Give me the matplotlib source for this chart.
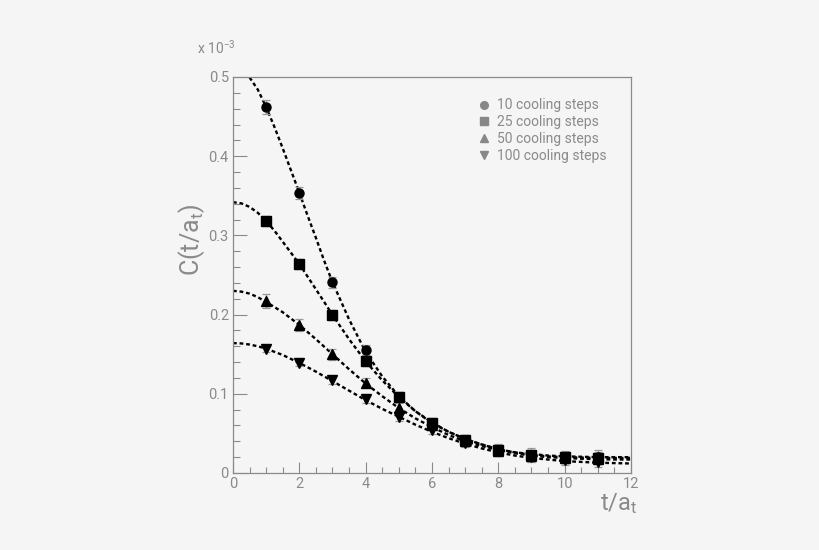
import matplotlib
matplotlib.use("Agg")
import matplotlib.pyplot as plt

# data, in units of 1e-3
t_pts = [1, 2, 3, 4, 5, 6, 7, 8, 9, 10, 11]

c10  = [0.462, 0.3535, 0.241, 0.155, 0.096, 0.063, 0.042, 0.029, 0.023, 0.020, 0.020]
c25  = [0.318, 0.264, 0.1995, 0.141, 0.096, 0.063, 0.042, 0.029, 0.023, 0.020, 0.019]
c50  = [0.217, 0.187, 0.150, 0.114, 0.082, 0.060, 0.040, 0.028, 0.021, 0.019, 0.018]
c100 = [0.157, 0.139, 0.117, 0.093, 0.071, 0.054, 0.038, 0.028, 0.020, 0.016, 0.014]

e10  = [0.009, 0.008, 0.007, 0.006, 0.006, 0.006, 0.006, 0.007, 0.008, 0.008, 0.009]
e25  = [0.006, 0.006, 0.006, 0.006, 0.006, 0.006, 0.006, 0.006, 0.006, 0.007, 0.007]
e50  = [0.009, 0.008, 0.007, 0.006, 0.006, 0.006, 0.006, 0.006, 0.006, 0.006, 0.006]
e100 = [0.004, 0.004, 0.004, 0.004, 0.005, 0.005, 0.005, 0.005, 0.006, 0.006, 0.006]

# fit curves
t_fit = [0, 0.25, 0.5, 0.75, 1, 1.25, 1.5, 1.75, 2, 2.25, 2.5, 2.75, 3, 3.5, 4, 4.5, 5, 5.5, 6,
         6.5, 7, 7.5, 8, 8.5, 9, 9.5, 10, 10.5, 11, 11.5, 12]
f10  = [0.512, 0.509, 0.4995, 0.484, 0.462, 0.437, 0.410, 0.382, 0.354, 0.325, 0.297, 0.268, 0.241,
        0.194, 0.153, 0.122, 0.097, 0.078, 0.064,
        0.052, 0.043, 0.036, 0.030, 0.026, 0.024, 0.022, 0.021, 0.0205, 0.020, 0.020, 0.020]
f25  = [0.342, 0.3405, 0.336, 0.3285, 0.318, 0.306, 0.292, 0.278, 0.264, 0.248, 0.232, 0.216, 0.1995,
        0.169, 0.141, 0.117, 0.096, 0.078, 0.063,
        0.052, 0.043, 0.036, 0.030, 0.026, 0.023, 0.021, 0.020, 0.0195, 0.019, 0.019, 0.019]
f50  = [0.230, 0.229, 0.2265, 0.222, 0.216, 0.2095, 0.203, 0.195, 0.187, 0.178, 0.169, 0.1595, 0.150,
        0.131, 0.113, 0.097, 0.082, 0.069, 0.058,
        0.048, 0.040, 0.034, 0.029, 0.025, 0.022, 0.020, 0.019, 0.018, 0.0175, 0.017, 0.017]
f100 = [0.164, 0.1636, 0.1622, 0.160, 0.157, 0.153, 0.149, 0.144, 0.139, 0.1335, 0.128, 0.122, 0.116,
        0.104, 0.092, 0.081, 0.071, 0.061, 0.052,
        0.044, 0.037, 0.031, 0.026, 0.022, 0.019, 0.017, 0.015, 0.014, 0.013, 0.0125, 0.012]

labels = ['10 cooling steps', '25 cooling steps', '50 cooling steps', '100 cooling steps']
markers = ['o', 's', '^', 'v']

bg = '#f5f5f5'
grey = '#8a8a8a'

plt.rcParams['font.family'] = ['Roboto', 'DejaVu Sans']
plt.rcParams['mathtext.default'] = 'regular'

fig = plt.figure(figsize=(8.2, 5.5), dpi=100, facecolor=bg)
ax = fig.add_axes([0.2841, 0.14, 0.4854, 0.72], facecolor=bg)

series = [(c10, e10, f10), (c25, e25, f25), (c50, e50, f50), (c100, e100, f100)]
for (c, e, f), m, lab in zip(series, markers, labels):
    ax.plot(t_fit, f, color='black', lw=1.7, ls=(0, (1.6, 1.2)), zorder=2)
    ax.errorbar(t_pts, c, yerr=e, fmt='none', ecolor='#999999', elinewidth=0.9,
                capsize=3, capthick=0.9, zorder=3)
    ax.plot(t_pts, c, ls='none', marker=m, ms=6.5, color='black', zorder=4)
    # legend entry (grey marker)
    ax.plot([], [], ls='none', marker=m, ms=5.5, color='#888888', label=lab)

ax.set_xlim(0, 12)
ax.set_ylim(0, 0.5)

ax.set_xticks([0, 2, 4, 6, 8, 10, 12])
ax.set_xticks([i * 0.5 for i in range(25)], minor=True)
ax.set_yticks([0, 0.1, 0.2, 0.3, 0.4, 0.5])
ax.set_yticklabels(['0', '0.1', '0.2', '0.3', '0.4', '0.5'])
ax.set_yticks([i * 0.02 for i in range(26)], minor=True)

ax.tick_params(which='both', direction='in', colors=grey, labelcolor=grey,
               labelsize=10.5, top=False, right=False, width=0.8)
ax.tick_params(axis='y', which='major', length=10, pad=3)
ax.tick_params(axis='y', which='minor', length=5)
ax.tick_params(axis='x', which='major', length=8, pad=3)
ax.tick_params(axis='x', which='minor', length=4)
for s in ax.spines.values():
    s.set_color(grey)
    s.set_linewidth(0.9)

ax.text(-0.09, 1.075, r'x 10$^{-3}$', transform=ax.transAxes, color=grey,
        fontsize=10, ha='left', va='center')
ax.text(-0.104, 0.59, r'C(t/a$_t$)', transform=ax.transAxes, color=grey,
        fontsize=18, rotation=90, ha='center', va='center')
ax.text(1.015, -0.078, r't/a$_t$', transform=ax.transAxes, color=grey,
        fontsize=17, ha='right', va='center')

leg = ax.legend(loc='upper left', bbox_to_anchor=(0.6, 0.96), frameon=False,
                fontsize=10, handletextpad=0.4, labelspacing=0.2,
                handlelength=1.0, borderaxespad=0)
for txt in leg.get_texts():
    txt.set_color(grey)

fig.savefig('out.png', dpi=100, facecolor=bg)
